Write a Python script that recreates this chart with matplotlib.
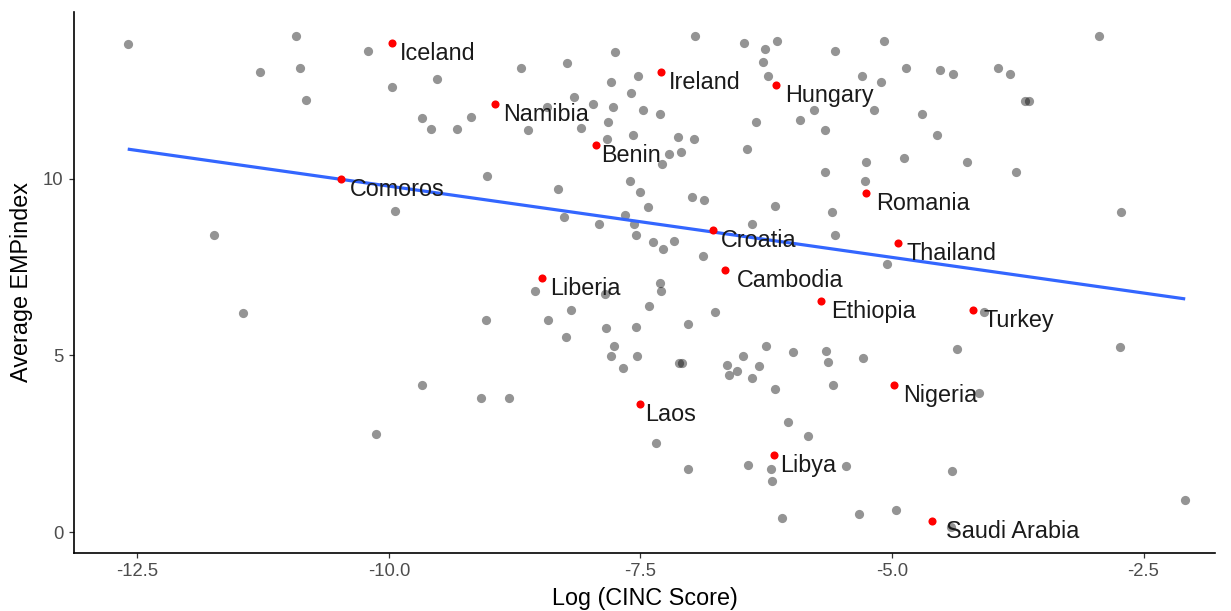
import matplotlib
matplotlib.use("Agg")
import matplotlib.pyplot as plt
from matplotlib.ticker import FixedLocator, FixedFormatter

plt.rcParams['font.family'] = ['Liberation Sans', 'DejaVu Sans']
plt.rcParams['axes.unicode_minus'] = False

# ---- data ----
gray_x = [-12.596, -10.927, -10.211, -11.281, -10.880, -9.966, -9.522, -10.821, -9.675, -9.579,
          -9.323, -9.184, -9.943, -11.735, -6.962, -6.475, -6.263, -6.143, -5.564, -7.750,
          -8.684, -8.227, -6.286, -7.525, -7.793, -6.237, -5.296, -7.598, -8.158, -7.976,
          -8.429, -7.773, -7.479, -7.306, -7.823, -8.088, -8.615, -5.780, -5.912, -6.349,
          -5.666, -7.574, -7.837, -7.131, -6.968, -7.216, -7.094, -7.286, -6.445, -9.025,
          -5.666, -5.256, -5.269, -8.317, -7.604, -7.509, -6.985, -6.866, -6.163, -7.425,
          -5.601, -8.264, -7.658, -7.912, -7.564, -6.392, -7.544, -5.564, -7.379, -7.171,
          -7.276, -6.883, -5.084, -2.944, -5.107, -4.858, -4.524, -4.398, -3.944, -3.825,
          -3.683, -3.643, -5.183, -4.706, -4.557, -4.881, -4.259, -3.772, -2.729, -5.047,
          -8.552, -7.852, -7.310, -7.296, -8.190, -9.032, -8.416, -7.415, -6.759, -7.840,
          -7.544, -7.032, -8.240, -7.763, -7.790, -7.531, -7.678, -7.115, -7.085, -6.637,
          -6.485, -6.541, -6.624, -6.322, -6.389, -6.253, -5.984, -5.653, -5.637, -5.291,
          -6.167, -5.587, -9.089, -8.806, -6.031, -5.832, -7.350, -7.032, -6.431, -6.203,
          -6.193, -5.458, -6.094, -5.327, -4.086, -4.352, -2.732, -4.140, -4.399, -2.086,
          -4.958, -4.411, -11.450, -9.668, -10.132]
gray_y = [13.81, 14.03, 13.61, 13.01, 13.13, 12.61, 12.83, 12.22, 11.72, 11.42,
          11.42, 11.76, 9.09, 8.40, 14.03, 13.85, 13.67, 13.90, 13.61, 13.60,
          13.13, 13.29, 13.31, 12.90, 12.75, 12.91, 12.90, 12.43, 12.31, 12.13,
          12.03, 12.02, 11.95, 11.83, 11.61, 11.44, 11.37, 11.95, 11.66, 11.61,
          11.38, 11.25, 11.14, 11.19, 11.13, 10.71, 10.77, 10.42, 10.84, 10.09,
          10.19, 10.48, 9.94, 9.71, 9.94, 9.64, 9.48, 9.41, 9.24, 9.21,
          9.07, 8.92, 8.97, 8.72, 8.71, 8.72, 8.41, 8.42, 8.21, 8.25,
          8.01, 7.82, 13.91, 14.03, 12.73, 13.13, 13.08, 12.96, 13.13, 12.96,
          12.19, 12.19, 11.95, 11.83, 11.25, 10.60, 10.47, 10.18, 9.07, 7.59,
          6.82, 6.74, 7.06, 6.83, 6.28, 5.99, 5.99, 6.41, 6.23, 5.79,
          5.81, 5.89, 5.52, 5.28, 4.99, 4.99, 4.64, 4.78, 4.78, 4.74,
          4.99, 4.57, 4.45, 4.69, 4.36, 5.28, 5.11, 5.13, 4.81, 4.93,
          4.06, 4.16, 3.81, 3.81, 3.11, 2.72, 2.51, 1.79, 1.89, 1.79,
          1.45, 1.86, 0.40, 0.50, 6.22, 5.17, 5.23, 3.93, 1.74, 0.91,
          0.64, 0.14, 6.19, 4.16, 2.77]

label_names = ["Iceland", "Comoros", "Ireland", "Hungary", "Namibia", "Benin", "Croatia",
               "Cambodia", "Liberia", "Romania", "Thailand", "Ethiopia", "Turkey",
               "Nigeria", "Laos", "Libya", "Saudi Arabia"]
label_x = [-9.969, -10.476, -7.300, -6.150, -8.945, -7.946, -6.779,
           -6.664, -8.482, -5.256, -4.941, -5.703, -4.192,
           -4.984, -7.501, -6.173, -4.602]
label_y = [13.84, 10.00, 13.03, 12.66, 12.13, 10.95, 8.55,
           7.41, 7.20, 9.60, 8.18, 6.55, 6.28,
           4.16, 3.63, 2.17, 0.32]

fit_x = [-12.596, -2.086]
fit_y = [10.84, 6.60]

x_ticks = [-12.5, -10.0, -7.5, -5.0, -2.5]
x_tick_labels = ["-12.5", "-10.0", "-7.5", "-5.0", "-2.5"]
y_ticks = [0, 5, 10]
y_tick_labels = ["0", "5", "10"]

# label text nudges (pixels, right / down)
label_dx = {"Iceland": 8, "Comoros": 9, "Ireland": 8, "Hungary": 9, "Namibia": 8,
            "Benin": 6, "Croatia": 8, "Cambodia": 12, "Liberia": 8, "Romania": 10,
            "Thailand": 9, "Ethiopia": 10, "Turkey": 10, "Nigeria": 9, "Laos": 5,
            "Libya": 6, "Saudi Arabia": 14}
label_dy = 17

# ---- figure ----
W, H = 1231, 611
fig = plt.figure(figsize=(W / 100, H / 100), dpi=100)
ax = fig.add_axes([74 / W, (H - 553) / H, (1215 - 74) / W, (553 - 12) / H])

ax.scatter(gray_x, gray_y, s=44, color="black", alpha=0.42, linewidths=0, zorder=2)
ax.plot(fit_x, fit_y, color="#3366FF", lw=2.3, solid_capstyle="butt", zorder=3)
ax.scatter(label_x, label_y, s=34, color="#FF0000", linewidths=0, zorder=4)

for name, x, y in zip(label_names, label_x, label_y):
    ax.annotate(name, (x, y), xytext=(label_dx[name], -label_dy),
                textcoords="offset pixels", ha="left", va="baseline",
                fontsize=16.8, color="#1a1a1a", zorder=5)

ax.set_xlim(-13.13, -1.79)
ax.set_ylim(-0.59, 14.72)

ax.xaxis.set_major_locator(FixedLocator(x_ticks))
ax.xaxis.set_major_formatter(FixedFormatter(x_tick_labels))
ax.yaxis.set_major_locator(FixedLocator(y_ticks))
ax.yaxis.set_major_formatter(FixedFormatter(y_tick_labels))

for side in ["top", "right"]:
    ax.spines[side].set_visible(False)
for side in ["left", "bottom"]:
    ax.spines[side].set_linewidth(1.2)
    ax.spines[side].set_color("black")

ax.tick_params(axis="both", length=3.5, width=0.9, color="#333333",
               labelsize=13.3, labelcolor="#4D4D4D", pad=4)

ax.set_xlabel("Log (CINC Score)", fontsize=16.8, color="black", labelpad=5)
ax.set_ylabel("Average EMPindex", fontsize=16.8, color="black", labelpad=7)

fig.savefig("out.png", dpi=100, facecolor="white")
